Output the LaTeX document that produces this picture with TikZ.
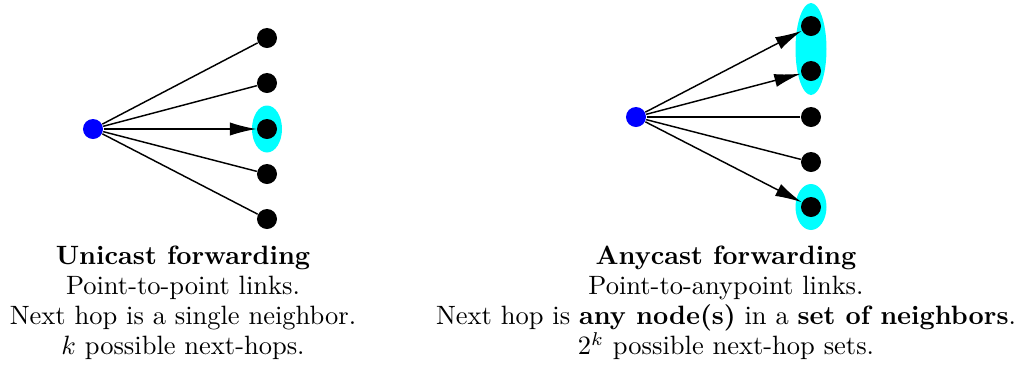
\documentclass[tikz,border=0pt]{standalone}
\usetikzlibrary{arrows.meta}
\definecolor{setcyan}{RGB}{0,255,255}
\begin{document}
\begin{tikzpicture}[x=0.3774pt,y=-0.3774pt,
  src/.style={circle,fill=blue,inner sep=0pt,minimum size=7.55pt},
  nbr/.style={circle,fill=black,inner sep=0pt,minimum size=7.55pt},
  link/.style={line width=0.55pt},
  fwd/.style={link,-{Latex[length=10pt,width=5pt]}},
  grp/.style={fill=setcyan},
  caption/.style={align=center,anchor=north,inner sep=0pt,font=\fontsize{10}{11.4}\selectfont}]
\useasboundingbox (0,0) rectangle (1025,369);

% unicast: one chosen neighbour
\fill[grp] (267,129) ellipse [x radius=15, y radius=23.5];
\node[src] (us) at (93,129) {};
\foreach \i/\y in {1/38,2/83,3/129,4/174,5/219}
  \node[nbr] (u\i) at (267,\y) {};
\foreach \i in {1,2,4,5}
  \draw[link] (us) -- (u\i);
\draw[fwd] (us) -- (u3);
\node[caption] (ucap) at (183,245) {\textbf{Unicast forwarding}\\
  Point-to-point links.\\
  Next hop is a single neighbor.\\
  $k$ possible next-hops.};

% anycast: a set of neighbours
\fill[grp] (811,49) ellipse [x radius=15.5, y radius=46];
\fill[grp] (811,207) ellipse [x radius=15.5, y radius=23];
\node[src] (as) at (636,117) {};
\foreach \i/\y in {1/26,2/71,3/117,4/162,5/207}
  \node[nbr] (a\i) at (811,\y) {};
\foreach \i in {3,4}
  \draw[link] (as) -- (a\i);
\foreach \i in {1,2,5}
  \draw[fwd] (as) -- (a\i);
\node[caption] (acap) at (726,245) {\textbf{Anycast forwarding}\\
  Point-to-anypoint links.\\
  Next hop is \textbf{any node(s)} in a \textbf{set of neighbors}.\\
  $2^k$ possible next-hop sets.};
\end{tikzpicture}
\end{document}
